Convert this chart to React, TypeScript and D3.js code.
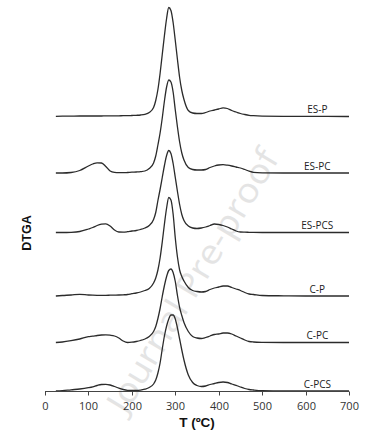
import React from "react";
import * as d3 from "d3";

const temps = [25, 40, 60, 80, 100, 110, 120, 130, 140, 150, 160, 170, 180, 190, 200, 210, 220, 230, 240, 250, 255, 260, 265, 270, 275, 280, 285, 290, 295, 300, 305, 310, 315, 320, 330, 340, 350, 360, 370, 380, 390, 400, 410, 420, 430, 440, 450, 460, 470, 480, 500, 550, 600, 650, 700];

const esP = [0.2, 0.3, 0.4, 0.5, 0.5, 0.5, 0.5, 0.5, 0.6, 0.6, 0.7, 0.7, 0.8, 0.8, 1, 1.2, 1.5, 2.2, 4, 9, 16, 27, 43, 62, 81, 98, 109, 106, 94, 76, 57, 39, 26, 17, 6, 3.5, 3, 3, 4, 5.5, 6.5, 7.5, 8.7, 8, 6, 4.5, 3, 2, 1.2, 0.8, 0.4, 0.2, 0.2, 0.1, 0];
const esPC = [0, 0, 0.5, 2.5, 7, 9, 10.2, 10, 6.5, 2, 0.6, 0.3, 0.3, 0.5, 0.8, 1, 1.3, 2, 4.5, 10, 17, 28, 40, 55, 72, 86, 93, 91, 81, 63, 46, 31, 20, 13, 5.5, 3.5, 3, 3, 3.5, 5.5, 7, 8, 8.3, 7.8, 7, 6, 5, 3.5, 1.8, 0.6, 0.2, 0, 0, 0, 0];
const esPCS = [0, 0, 0.2, 1, 3.5, 5, 7, 8.3, 8.7, 6.5, 2.5, 0.5, 0.4, 0.8, 1.5, 2, 3, 4.5, 7, 13, 20, 32, 43, 55, 67, 77, 82, 79, 69, 55, 41, 28, 18, 12, 6.5, 4.5, 4, 4.5, 5.5, 7, 8.5, 8, 7, 5.5, 3.5, 1.5, 0.5, 0.3, 0.2, 0.1, 0, 0, 0, 0, 0];
const cP = [0, 0.5, 1, 1.7, 1, 0.8, 0.7, 0.7, 0.7, 0.8, 0.9, 1, 1.2, 1.5, 2.3, 3, 4, 5.5, 7.5, 13, 18, 26, 38, 54, 72, 88, 98.5, 96, 82, 58, 39, 26, 19.5, 15, 8.5, 5.5, 4.5, 4, 4.5, 6.5, 8, 9, 10, 10, 8.5, 7, 5.5, 3.5, 2, 1.5, 0.5, 0.2, 0, 0, 0];
const cPC = [0, 0.5, 1.8, 3.5, 5.8, 6.3, 7, 7.5, 7.7, 7.3, 6.5, 4.5, 1.5, 0, 0.3, 1, 2, 3.5, 6, 11, 16, 24, 34, 46, 57, 66, 72, 73.5, 70, 61, 47, 35, 27, 20, 11, 6, 4.5, 4, 5, 6.5, 8, 8.5, 9.5, 9.5, 8.5, 6.5, 4.5, 2.5, 1, 0.5, 0.2, 0, 0, 0, 0];
const cPCS = [0, 0.3, 1.2, 2, 3.3, 4.2, 5.5, 6.5, 6.7, 6, 4.5, 2.8, 1.5, 0.7, 0.5, 0.5, 0.8, 1.8, 3.5, 7, 11, 18, 28, 42, 55, 65, 72, 76, 76, 72, 63, 52, 41, 31, 16, 8.5, 5.5, 4.5, 5, 6.5, 7.5, 8.5, 9, 8.5, 7, 5.7, 4, 2.5, 1.5, 1, 0.3, 0, 0, 0, 0];

const seriesNames = ["ES-P", "ES-PC", "ES-PCS", "C-P", "C-PC", "C-PCS"];
const seriesValues = [esP, esPC, esPCS, cP, cPC, cPCS];
const seriesOffsets = [275, 218.5, 159, 95.5, 49, 0.5];

const xTicks = [0, 100, 200, 300, 400, 500, 600, 700];
const labelTemp = 627;
const xTitle = "T (ºC)";
const yTitle = "DTGA";
const watermark = "Journal Pre-proof";

const W = 381;
const H = 436;

export default function App() {
  const x = d3.scaleLinear().domain([0, 700]).range([45, 349]);
  const y = d3.scaleLinear().domain([0, 391.5]).range([391.5, 0]);
  const line = d3
    .line<[number, number]>()
    .x((d) => x(d[0]))
    .y((d) => y(d[1]))
    .curve(d3.curveMonotoneX);

  const axisY = y(0);

  return (
    <svg
      width={W}
      height={H}
      viewBox={`0 0 ${W} ${H}`}
      style={{ position: "absolute", left: 0, top: 0, background: "#fff" }}
    >
      <rect x={0} y={0} width={W} height={H} fill="#fff" />
      <text
        transform={`translate(195,282) rotate(-59)`}
        textAnchor="middle"
        dominantBaseline="middle"
        fontFamily="'Open Sans', sans-serif"
        fontSize={34}
        fill="#e4e4e4"
        textLength={300}
        lengthAdjust="spacingAndGlyphs"
      >
        {watermark}
      </text>

      {seriesValues.map((vals, i) => {
        const pts: [number, number][] = temps.map((t, j) => [t, vals[j] + seriesOffsets[i]]);
        return (
          <path
            key={seriesNames[i]}
            d={line(pts) || ""}
            fill="none"
            stroke="#2b2b2b"
            strokeWidth={1.3}
            strokeLinejoin="round"
          />
        );
      })}

      {seriesNames.map((name, i) => (
        <text
          key={name}
          x={x(labelTemp)}
          y={y(seriesOffsets[i] + 3.5)}
          textAnchor="middle"
          fontFamily="'Open Sans', sans-serif"
          fontSize={10}
          fill="#222"
        >
          {name}
        </text>
      ))}

      <line x1={x(0)} x2={x(700)} y1={axisY} y2={axisY} stroke="#444" strokeWidth={1} />
      {xTicks.map((t) => (
        <g key={t} transform={`translate(${Math.round(x(t)) + 0.5},0)`}>
          <line y1={axisY} y2={axisY + 4} stroke="#444" strokeWidth={1} />
          <text
            y={410}
            textAnchor="middle"
            fontFamily="'Open Sans', sans-serif"
            fontSize={11}
            fill="#333"
          >
            {t}
          </text>
        </g>
      ))}

      <text
        x={(x(0) + x(700)) / 2}
        y={427}
        textAnchor="middle"
        fontFamily="'Liberation Sans', Arial, sans-serif"
        fontWeight="bold"
        fontSize={13.5}
        fill="#111"
      >
        {xTitle}
      </text>
      <text
        transform={`translate(30.5,233) rotate(-90)`}
        textAnchor="middle"
        fontFamily="'Liberation Sans', Arial, sans-serif"
        fontWeight="bold"
        fontSize={12.5}
        fill="#111"
      >
        {yTitle}
      </text>
    </svg>
  );
}
